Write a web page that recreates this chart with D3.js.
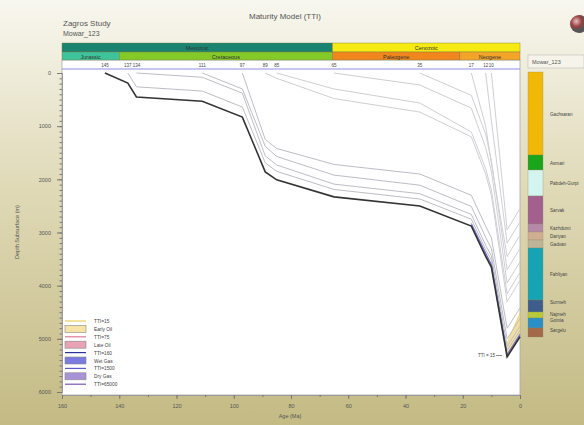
<!DOCTYPE html>
<html>
<head>
<meta charset="utf-8">
<script src="https://cdn.jsdelivr.net/npm/d3@7"></script>
<style>
body { margin: 0; }
svg { display: block; font-family: "Liberation Sans", Arial, sans-serif; }
</style>
</head>
<body>
<svg id="chart" width="584" height="425"></svg>
<script>
// time grid (Ma) the burial curves are sampled on
var ages = [145, 137, 134, 111, 97, 89, 85, 65, 35, 17, 12, 10, 4.5, 0];

// depth (m) of each horizon at each time, null before deposition
var base = [0, 190, 450, 530, 830, 1860, 2010, 2330, 2500, 2880, 3450, 3650, 5340, 4960];
var h137 = [null, 0, 260, 340, 640, 1690, 1850, 2190, 2370, 2750, 3320, 3520, 5220, 4840];
var h134 = [null, null, 0, 80, 380, 1560, 1730, 2090, 2270, 2660, 3240, 3440, 5140, 4760];
var h111 = [null, null, null, 0, 300, 1380, 1570, 1920, 2110, 2510, 3090, 3300, 5000, 4620];
var h97 = [null, null, null, null, 0, 1250, 1420, 1720, 1900, 2300, 2880, 3100, 4800, 4420];
var h89 = [null, null, null, null, null, 0, 100, 480, 735, 1200, 1900, 2300, 4300, 3900];
var h85 = [null, null, null, null, null, null, 0, 300, 565, 1110, 1800, 2200, 4150, 3750];
var h65 = [null, null, null, null, null, null, null, 0, 225, 660, 1400, 1850, 3950, 3550];
var h35 = [null, null, null, null, null, null, null, null, 0, 420, 1150, 1650, 3700, 3300];
var h17 = [null, null, null, null, null, null, null, null, null, 0, 1000, 1700, 3450, 3050];
var h12 = [null, null, null, null, null, null, null, null, null, null, 0, 900, 3200, 2800];
var h10 = [null, null, null, null, null, null, null, null, null, null, null, 0, 2950, 2550];

var horizonAges = [145, 137, 134, 111, 97, 89, 85, 65, 35, 17, 12, 10];
var horizonLabels = ["145", "137", "134", "111", "97", "89", "85", "65", "35", "17", "12", "10"];

// TTI contours near present day
var ttiAges = [17, 10, 4.5, 0];
var tti160 = [2830, 3600, 5290, 4910];
var tti1500 = [2860, 3630, 5320, 4940];
var oilAges = [4.8, 0];
var tti15 = [5110, 4510];
var tti75 = [5340, 4890];

// time scale bars
var eras = ["Mesozoic", "Cenozoic"];
var eraStart = [160, 65.5];
var eraEnd = [65.5, 0];
var eraColors = ["#1a8470", "#f5ea12"];
var periods = ["Jurassic", "Cretaceous", "Paleogene", "Neogene"];
var periodStart = [160, 140, 65.5, 21];
var periodEnd = [140, 65.5, 21, 0];
var periodColors = ["#3ec49a", "#84c928", "#f0861c", "#f5a42a"];

// well column (relative thickness units)
var formations = ["Gachsaran", "Asmari", "Pabdeh-Gurpi", "Sarvak", "Kazhdumi", "Dariyan", "Gadvan", "Fahliyan", "Surmeh", "Najmeh", "Gotnia", "Sargelu"];
var formThick = [83, 15, 26, 28, 8, 8, 8, 52, 12, 6, 10, 9];
var formColors = ["#f2b807", "#1aa51a", "#d4f4f0", "#a3608f", "#b48aa8", "#cfae92", "#bdb49a", "#16a3b3", "#3f5d8c", "#b9c93a", "#2a8fc6", "#a36a4a"];

var legendNames = ["TTI=15", "Early Oil", "TTI=75", "Late Oil", "TTI=160", "Wet Gas", "TTI=1500", "Dry Gas", "TTI=65000"];
var legendKinds = ["line", "box", "line", "box", "line", "box", "line", "box", "line"];
var legendColors = ["#e8cf5a", "#f6e4a6", "#e07a9a", "#e8a3b4", "#30309a", "#7c7ce0", "#5a5ac8", "#a993d8", "#7a55b0"];

var svg = d3.select("#chart");

var defs = svg.append("defs");
var bg = defs.append("linearGradient").attr("id", "bg").attr("x1", 0).attr("y1", 0).attr("x2", 0).attr("y2", 1);
bg.append("stop").attr("offset", "0%").attr("stop-color", "#f8f7ef");
bg.append("stop").attr("offset", "45%").attr("stop-color", "#dfd9b6");
bg.append("stop").attr("offset", "100%").attr("stop-color", "#c3ba84");
var ball = defs.append("radialGradient").attr("id", "ball").attr("cx", "35%").attr("cy", "35%");
ball.append("stop").attr("offset", "0%").attr("stop-color", "#e8c0c0");
ball.append("stop").attr("offset", "60%").attr("stop-color", "#9a4040");
ball.append("stop").attr("offset", "100%").attr("stop-color", "#555");

svg.append("rect").attr("width", 584).attr("height", 425).attr("fill", "url(#bg)");

var x = d3.scaleLinear().domain([160, 0]).range([62, 520]);
var y = d3.scaleLinear().domain([0, 6000]).range([73, 392]);

// titles
svg.append("text").attr("x", 285).attr("y", 19).attr("text-anchor", "middle")
    .attr("font-size", 8).attr("fill", "#555").text("Maturity Model (TTI)");
svg.append("text").attr("x", 63).attr("y", 26).attr("font-size", 8).attr("fill", "#555").text("Zagros Study");
svg.append("text").attr("x", 63).attr("y", 36).attr("font-size", 7).attr("fill", "#555").text("Mowar_123");
svg.append("circle").attr("cx", 579).attr("cy", 24).attr("r", 9).attr("fill", "url(#ball)");

// plot frame
svg.append("rect").attr("x", 62).attr("y", 60).attr("width", 458).attr("height", 335)
    .attr("fill", "#fff").attr("stroke", "#aaa").attr("stroke-width", 0.8);

// era / period bars
var eraG = svg.append("g");
eras.forEach(function(name, i) {
    eraG.append("rect").attr("x", x(eraStart[i])).attr("y", 43)
        .attr("width", x(eraEnd[i]) - x(eraStart[i])).attr("height", 9)
        .attr("fill", eraColors[i]).attr("stroke", "#7a7a40").attr("stroke-width", 0.4);
    eraG.append("text").attr("x", (x(eraStart[i]) + x(eraEnd[i])) / 2).attr("y", 50)
        .attr("text-anchor", "middle").attr("font-size", 5.5).attr("fill", "#333").text(name);
});
periods.forEach(function(name, i) {
    eraG.append("rect").attr("x", x(periodStart[i])).attr("y", 52)
        .attr("width", x(periodEnd[i]) - x(periodStart[i])).attr("height", 8)
        .attr("fill", periodColors[i]).attr("stroke", "#7a7a40").attr("stroke-width", 0.4);
    eraG.append("text").attr("x", (x(periodStart[i]) + x(periodEnd[i])) / 2).attr("y", 58.5)
        .attr("text-anchor", "middle").attr("font-size", 5.5).attr("fill", "#333").text(name);
});

// horizon age labels
horizonAges.forEach(function(a, i) {
    svg.append("text").attr("x", x(a)).attr("y", 66.5).attr("text-anchor", "middle")
        .attr("font-size", 4.5).attr("fill", "#444").text(horizonLabels[i]);
});
svg.append("line").attr("x1", 62).attr("x2", 520).attr("y1", 69).attr("y2", 69)
    .attr("stroke", "#8c8ce0").attr("stroke-width", 1);

// axes
var yAxis = d3.axisLeft(y).tickValues(d3.range(0, 6001, 1000)).tickSize(5).tickPadding(6).tickFormat(d3.format("d"));
var yMinor = d3.axisLeft(y).tickValues(d3.range(0, 6001, 100)).tickSize(2.5).tickFormat("");
var ya = svg.append("g").attr("transform", "translate(62,0)").call(yAxis);
svg.append("g").attr("transform", "translate(62,0)").call(yMinor);
var xAxis = d3.axisBottom(x).tickValues(d3.range(0, 161, 20)).tickSize(4).tickPadding(5);
var xMinor = d3.axisBottom(x).tickValues(d3.range(0, 161, 10)).tickSize(2).tickFormat("");
svg.append("g").attr("transform", "translate(0,395)").call(xAxis);
svg.append("g").attr("transform", "translate(0,395)").call(xMinor);
svg.selectAll(".domain").attr("stroke", "#999");
svg.selectAll(".tick line").attr("stroke", "#777");
svg.selectAll(".tick text").attr("font-size", 5.5).attr("fill", "#555");

svg.append("text").attr("x", 290).attr("y", 418).attr("text-anchor", "middle")
    .attr("font-size", 5.5).attr("fill", "#555").text("Age (Ma)");
svg.append("text").attr("transform", "translate(19,232) rotate(-90)").attr("text-anchor", "middle")
    .attr("font-size", 5.5).attr("fill", "#555").text("Depth Subsurface (m)");

// burial curves
var line = d3.line().x(function(d) { return x(d[0]); }).y(function(d) { return y(d[1]); });
function pts(ag, arr) {
    return ag.map(function(a, i) { return [a, arr[i]]; }).filter(function(d) { return d[1] != null; });
}

var oil = pts(oilAges, tti15).concat(pts(oilAges, tti75).reverse());
svg.append("path").attr("d", line(oil) + "Z").attr("fill", "#f3dfa0").attr("stroke", "#e0c870").attr("stroke-width", 0.6);

var greys = [h10, h12, h17, h35, h65, h85, h89, h97, h111, h134, h137];
greys.forEach(function(arr, i) {
    svg.append("path").attr("d", line(pts(ages, arr))).attr("fill", "none")
        .attr("stroke", i < 7 ? "#cfcfd4" : "#bdbdc6").attr("stroke-width", 1);
});
svg.append("path").attr("d", line(pts(ttiAges, tti1500))).attr("fill", "none").attr("stroke", "#9a8ad8").attr("stroke-width", 1.2);
svg.append("path").attr("d", line(pts(ttiAges, tti160))).attr("fill", "none").attr("stroke", "#6a6ac4").attr("stroke-width", 1);
svg.append("path").attr("d", line(pts(ages, base))).attr("fill", "none").attr("stroke", "#333").attr("stroke-width", 1.6);

svg.append("text").attr("x", 495).attr("y", 357).attr("text-anchor", "end")
    .attr("font-size", 4.5).attr("fill", "#444").text("TTI = 15");
svg.append("line").attr("x1", 496).attr("x2", 502).attr("y1", 355.5).attr("y2", 355.5).attr("stroke", "#444").attr("stroke-width", 0.6);

// legend
var lg = svg.append("g").attr("transform", "translate(65,320)");
legendNames.forEach(function(name, i) {
    var ly = i * 7.9;
    if (legendKinds[i] == "box") {
        lg.append("rect").attr("x", 0).attr("y", ly - 2.5).attr("width", 21).attr("height", 7)
            .attr("fill", legendColors[i]).attr("stroke", "#888").attr("stroke-width", 0.6);
    } else {
        lg.append("line").attr("x1", 0).attr("x2", 21).attr("y1", ly + 1).attr("y2", ly + 1)
            .attr("stroke", legendColors[i]).attr("stroke-width", 1.2);
    }
    lg.append("text").attr("x", 29).attr("y", ly + 3).attr("font-size", 4.8).attr("fill", "#444").text(name);
});

// well column
svg.append("rect").attr("x", 528).attr("y", 55).attr("width", 56).attr("height", 13)
    .attr("fill", "#f6f4ea").attr("stroke", "#bbb").attr("stroke-width", 0.6);
svg.append("text").attr("x", 532).attr("y", 64).attr("font-size", 5.5).attr("fill", "#555").text("Mowar_123");

var cum = [0];
formThick.forEach(function(t, i) { cum.push(cum[i] + t); });
var c = d3.scaleLinear().domain([0, cum[cum.length - 1]]).range([72, 337]);
formations.forEach(function(name, i) {
    var top = c(cum[i]), bot = c(cum[i + 1]);
    svg.append("rect").attr("x", 528).attr("y", top).attr("width", 15).attr("height", bot - top)
        .attr("fill", formColors[i]).attr("stroke", "#8a8a60").attr("stroke-width", 0.3);
    var ty = (top + bot) / 2 + 2;
    if (i >= 8) ty = top + 3.5;
    svg.append("text").attr("x", 550).attr("y", ty).attr("font-size", 4.6).attr("fill", "#444").text(name);
});
</script>
</body>
</html>
